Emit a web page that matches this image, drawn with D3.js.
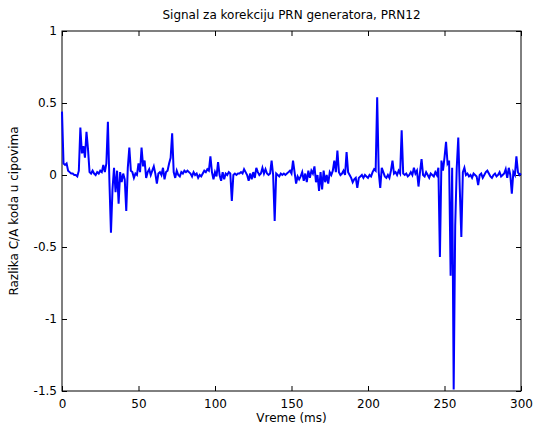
<!DOCTYPE html>
<html>
<head>
<meta charset="utf-8">
<script src="https://cdn.jsdelivr.net/npm/d3@7"></script>
<style>
  body { margin: 0; background: #fff; }
  svg text { font-family: "DejaVu Sans", sans-serif; fill: #000; }
</style>
</head>
<body>
<div id="chart"></div>
<script>
// signal samples, one per ms, t = 0..300
var signal = [
  0.44, 0.08, 0.07, 0.08, 0.03, 0.02, 0.01, 0.01, 0.00, 0.00,
  -0.01, 0.03, 0.33, 0.15, 0.20, 0.12, 0.30, 0.18, 0.02, 0.01,
  0.03, 0.01, 0.00, 0.02, 0.01, 0.03, 0.02, 0.07, 0.02, 0.08,
  0.37, -0.05, -0.40, -0.10, 0.05, -0.12, 0.03, -0.20, 0.02, -0.05,
  0.01, -0.03, -0.25, 0.05, 0.19, 0.03, 0.02, -0.02, 0.01, 0.00,
  0.08, 0.02, 0.19, 0.06, 0.10, -0.02, 0.02, 0.04, 0.00, 0.03,
  0.06, 0.01, -0.06, 0.01, 0.02, 0.00, 0.05, -0.03, 0.02, 0.03,
  0.08, 0.12, 0.29, 0.02, -0.02, 0.03, 0.00, -0.01, 0.02, 0.01,
  0.03, 0.02, 0.03, 0.02, 0.01, -0.01, 0.02, 0.00, 0.01, -0.02,
  0.00, -0.01, 0.01, 0.03, 0.02, 0.04, 0.03, 0.13, 0.02, -0.03,
  0.02, -0.01, 0.09, 0.00, -0.04, 0.02, -0.03, 0.01, 0.00, 0.02,
  0.01, -0.18, 0.00, 0.01, 0.00, 0.01, 0.01, 0.02, 0.01, 0.04,
  0.02, 0.00, -0.04, 0.01, -0.03, 0.02, -0.02, 0.05, 0.02, 0.00,
  0.01, 0.05, 0.01, 0.04, 0.01, 0.00, 0.01, 0.10, 0.00, -0.32,
  0.01, 0.00, -0.01, 0.01, 0.00, 0.01, 0.00, 0.01, 0.02, 0.03,
  0.01, 0.10, 0.02, -0.06, -0.01, -0.03, -0.01, 0.02, -0.04, 0.01,
  -0.05, 0.03, -0.02, 0.03, 0.01, 0.06, -0.05, 0.00, -0.11, 0.02,
  -0.10, 0.03, -0.05, 0.00, -0.06, 0.02, 0.00, 0.03, 0.10, 0.02,
  0.17, 0.02, 0.00, 0.01, 0.03, 0.00, 0.16, 0.02, 0.00, -0.02,
  -0.05, -0.03, -0.02, -0.09, -0.02, -0.01, 0.00, -0.02, 0.00, -0.01,
  -0.02, 0.00, -0.01, 0.02, 0.04, 0.03, 0.54, 0.02, -0.09, 0.05,
  0.02, -0.01, -0.02, 0.00, -0.02, 0.03, 0.10, 0.01, 0.02, 0.00,
  0.03, 0.01, 0.31, 0.01, 0.00, 0.01, -0.01, 0.00, 0.02, 0.00,
  0.05, 0.01, 0.03, -0.08, 0.02, 0.11, 0.00, -0.01, 0.02, 0.00,
  -0.02, 0.01, 0.00, -0.01, 0.02, 0.00, 0.05, -0.57, 0.10, 0.03,
  0.12, 0.23, 0.08, 0.10, -0.70, 0.05, -1.49, -0.35, 0.05, 0.26,
  -0.10, -0.43, 0.02, 0.05, 0.00, 0.01, -0.01, 0.00, -0.02, 0.01,
  0.00, -0.01, -0.07, 0.00, 0.01, -0.02, 0.00, 0.02, 0.03, 0.01,
  -0.01, -0.02, 0.00, 0.01, -0.01, 0.00, 0.02, -0.01, 0.00, 0.01,
  0.04, -0.02, 0.05, 0.00, -0.13, 0.02, 0.00, 0.13, 0.02, 0.00,
  0.01
];
var xTicks = [0, 50, 100, 150, 200, 250, 300];
var yTicks = [-1.5, -1, -0.5, 0, 0.5, 1];

var title = "Signal za korekciju PRN generatora, PRN12";
var xTitle = "Vreme (ms)";
var yTitle = "Razlika C/A koda u cipovima";

var width = 536, height = 433;
var margin = { top: 31, right: 15, bottom: 42, left: 62 };
var pw = width - margin.left - margin.right;
var ph = height - margin.top - margin.bottom;

var svg = d3.select("#chart").append("svg")
    .attr("width", width).attr("height", height);

var x = d3.scaleLinear().domain([0, 300]).range([margin.left, margin.left + pw]);
var y = d3.scaleLinear().domain([-1.5, 1]).range([margin.top + ph, margin.top]);

var fmt = function(d) { return String(d); };

// ticks on all four sides, pointing in
svg.append("g")
    .attr("transform", "translate(0," + (margin.top + ph) + ")")
    .call(d3.axisBottom(x).tickValues(xTicks).tickSizeInner(-5).tickSizeOuter(0).tickPadding(8).tickFormat(fmt));
svg.append("g")
    .attr("transform", "translate(0," + margin.top + ")")
    .call(d3.axisTop(x).tickValues(xTicks).tickSizeInner(-5).tickSizeOuter(0).tickFormat(""));
svg.append("g")
    .attr("transform", "translate(" + margin.left + ",0)")
    .call(d3.axisLeft(y).tickValues(yTicks).tickSizeInner(-5).tickSizeOuter(0).tickPadding(5).tickFormat(fmt));
svg.append("g")
    .attr("transform", "translate(" + (margin.left + pw) + ",0)")
    .call(d3.axisRight(y).tickValues(yTicks).tickSizeInner(-5).tickSizeOuter(0).tickFormat(""));

svg.selectAll(".domain").remove();
svg.selectAll(".tick line").attr("stroke", "#000");
svg.selectAll(".tick text").attr("font-size", 12).attr("fill", "#000")
    .attr("font-family", "DejaVu Sans, sans-serif");

svg.append("rect")
    .attr("x", margin.left).attr("y", margin.top)
    .attr("width", pw).attr("height", ph)
    .attr("fill", "none").attr("stroke", "#000").attr("stroke-width", 1);

var line = d3.line()
    .x(function(d, i) { return x(i); })
    .y(function(d) { return y(d); });

svg.append("path")
    .datum(signal)
    .attr("d", line)
    .attr("fill", "none")
    .attr("stroke", "#0000ff")
    .attr("stroke-width", 2)
    .attr("stroke-linejoin", "miter");

svg.append("text")
    .attr("x", margin.left + pw / 2).attr("y", 19)
    .attr("text-anchor", "middle").attr("font-size", 12)
    .text(title);

svg.append("text")
    .attr("x", margin.left + pw / 2).attr("y", 422)
    .attr("text-anchor", "middle").attr("font-size", 12)
    .text(xTitle);

svg.append("text")
    .attr("transform", "translate(18," + (margin.top + ph / 2) + ") rotate(-90)")
    .attr("text-anchor", "middle").attr("font-size", 12)
    .text(yTitle);
</script>
</body>
</html>
